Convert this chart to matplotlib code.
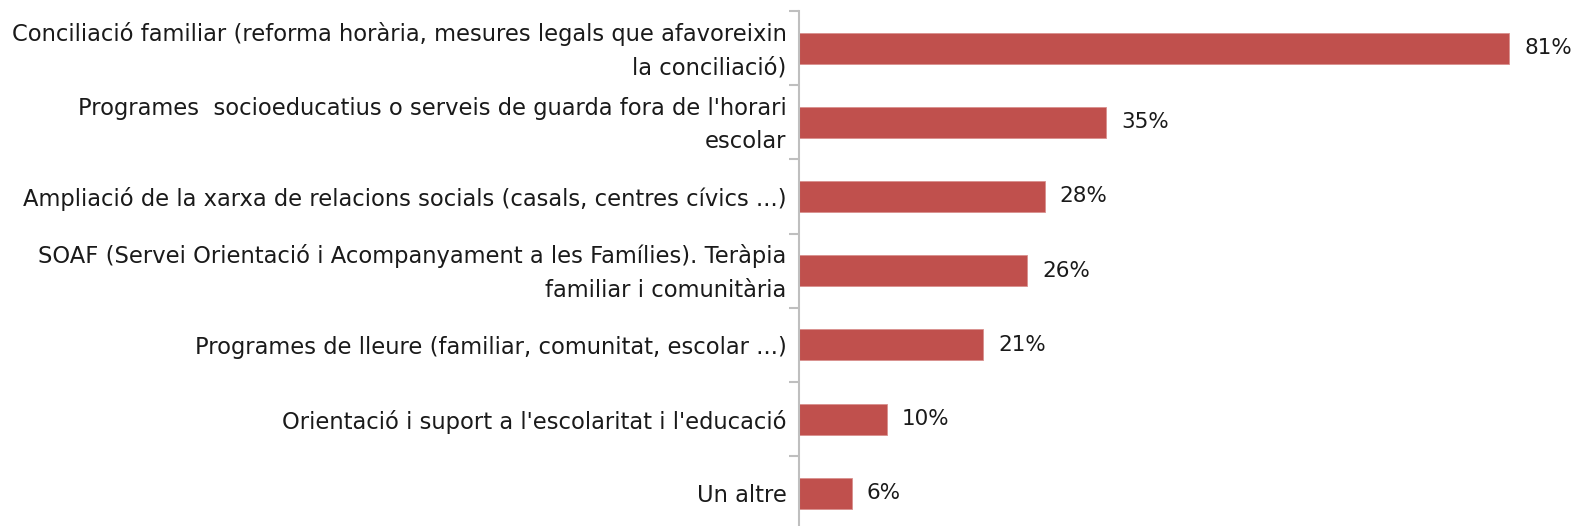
import matplotlib.pyplot as plt
import matplotlib.transforms as mtransforms
import numpy as np

# Dades
categories = [
    "Conciliació familiar (reforma horària, mesures legals que afavoreixin\nla conciliació)",
    "Programes  socioeducatius o serveis de guarda fora de l'horari\nescolar",
    "Ampliació de la xarxa de relacions socials (casals, centres cívics ...)",
    "SOAF (Servei Orientació i Acompanyament a les Famílies). Teràpia\nfamiliar i comunitària",
    "Programes de lleure (familiar, comunitat, escolar ...)",
    "Orientació i suport a l'escolaritat i l'educació",
    "Un altre",
]
valors = [81, 35, 28, 26, 21, 10, 6]
etiquetes = ["81%", "35%", "28%", "26%", "21%", "10%", "6%"]

plt.rcParams["font.family"] = ["DejaVu Sans"]

fig = plt.figure(figsize=(15.78, 5.26), dpi=100)
ax = fig.add_axes([799 / 1578, (526 - 530.4) / 526, 1 - 799 / 1578, (530.4 - 11) / 526])

y = np.arange(len(valors))
ax.barh(y, valors, height=0.42, color="#C0504D", edgecolor="#D9908E", linewidth=0.6)

for yi, v, t in zip(y, valors, etiquetes):
    ax.annotate(t, (v, yi), xytext=(15, 0), textcoords="offset pixels",
                va="center", ha="left", fontsize=15.5, color="#1a1a1a")

ax.set_xlim(0, 779 / 8.77)
ax.set_ylim(len(valors) - 0.5, -0.5)

ax.set_yticks(y)
ax.set_yticklabels(categories, fontsize=16.3, color="#1a1a1a", linespacing=1.58,
                   ha="right", va="center")
ax.tick_params(axis="y", which="major", length=0, pad=9)
ax.set_yticks(np.arange(-0.5, len(valors), 1), minor=True)
ax.tick_params(axis="y", which="minor", length=7, width=1.5, color="#BFBFBF")
ax.set_xticks([])

# baixar una mica les etiquetes
despl = mtransforms.ScaledTranslation(0, -2.5 / 100, fig.dpi_scale_trans)
for lbl in ax.get_yticklabels():
    lbl.set_transform(lbl.get_transform() + despl)

for s in ["top", "right", "bottom"]:
    ax.spines[s].set_visible(False)
ax.spines["left"].set_color("#BFBFBF")
ax.spines["left"].set_linewidth(1.5)

plt.savefig("out.png", dpi=100)
